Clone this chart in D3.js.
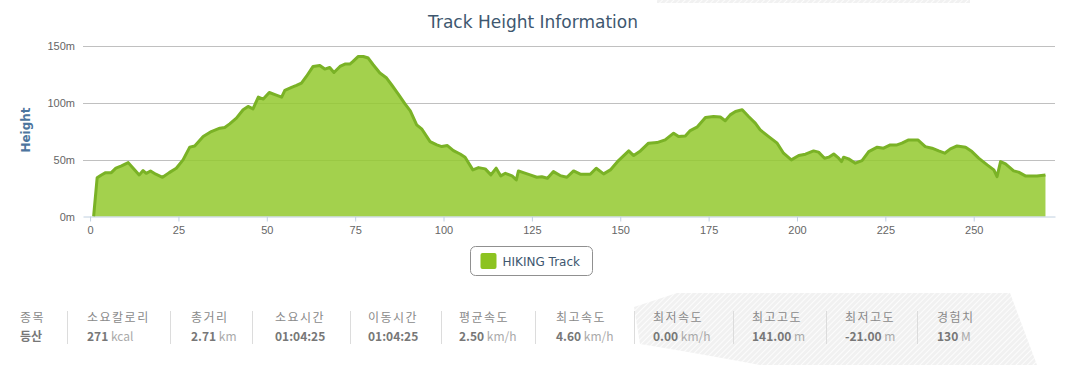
<!DOCTYPE html>
<meta charset="utf-8">
<style>
body {
  margin: 0;
  background: #fff;
}

svg {
  display: block;
  font-family: "DejaVu Sans", Verdana, sans-serif;
}

.grid line {
  stroke: #c0c0c0;
  stroke-width: 1px;
}

.axis--x .domain,
.axis--x .tick line {
  stroke: #c0d0e0;
}

.axis text {
  fill: #666;
  font-size: 11px;
}

.area {
  fill: rgb(147,201,46);
  fill-opacity: 0.85;
}

.line {
  fill: none;
  stroke: #7ab226;
  stroke-width: 3px;
  stroke-linejoin: round;
}

.stats text {
  font-family: "Noto Sans CJK KR", sans-serif;
  font-size: 12px;
}

.stats .label { fill: #8a8a8a; letter-spacing: 1.5px; }
.stats .value { fill: #777; font-weight: bold; }
.stats .unit { fill: #aaa; font-weight: normal; }
.stats .sep { stroke: #dcdcdc; }

</style>
<body>
<script src="https://cdn.jsdelivr.net/npm/d3@7"></script>
<script>

// track distance (x) and height in metres
var distance = [1, 2, 3.2, 4.4, 6, 7.3, 8.9, 10.8, 12.2, 13.9, 15, 15.9, 17.1, 18.6, 20.5, 22.4, 24.4,
  26.3, 28.2, 29.6, 32, 34.3, 36.7, 38.1, 39.5, 41.4, 43.3, 44.7, 46.1, 47.6, 49, 50.7, 52.5,
  54.2, 55.1, 57, 58.4, 59.8, 61.2, 63.1, 65, 66.4, 67.8, 69, 70.7, 72.1, 73.5, 74.4, 75.9,
  77.3, 78.7, 80.1, 82, 83.9, 85.3, 87.2, 89.1, 90.6, 92.4, 93.9, 96.2, 98.1, 99.5, 101.1,
  102.8, 104.7, 106.1, 108.3, 109.9, 111.8, 113.4, 114.9, 116.2, 117.5, 119.4, 120.6, 121.2,
  122.6, 124.5, 126.4, 127.8, 129.4, 131.1, 133, 134.9, 136.8, 138.7, 141.5, 143.2, 145.3,
  147.2, 149.5, 152.4, 153.8, 155.7, 158, 160.4, 162.7, 165.1, 166.5, 168.4, 169.8, 171.7,
  174.1, 176.4, 178.3, 179.7, 181.1, 182.6, 184.5, 186.3, 188.2, 189.6, 192, 194.4, 196.2,
  198.4, 200.5, 202.4, 204.7, 206.1, 207.8, 209, 210.4, 211.8, 212.6, 213.2, 214.6, 216.5,
  218.4, 220.3, 222.7, 224.5, 226.4, 228.3, 229.7, 231.6, 234.2, 236.3, 238.2, 240.1, 241.8,
  243.4, 245.3, 247.7, 249.5, 251.4, 253.8, 255.7, 256.6, 257.6, 259, 261.3, 262.7, 264.6,
  267.9, 270.3];

var height = [0, 34, 36.5, 38.6, 38.6, 42.5, 44.5, 47.4, 42.5, 36.6, 40.4, 38, 40, 37.2, 34.5, 38.6, 42.5,
  49.8, 61, 62, 70.3, 74.7, 77.7, 78.3, 81.5, 86.5, 93.9, 96.8, 94.7, 105, 103.3, 109.1, 107,
  105, 110.9, 113.5, 115.3, 117.4, 123.2, 132, 132.9, 129.7, 131.1, 126.7, 132, 134.1, 134.1, 136.4, 140.8,
  140.8, 139.4, 133.5, 126.2, 121.8, 115.9, 107.7, 99.1, 93, 80.6, 76.8, 65.9, 63, 61.5, 62.4,
  58, 55, 52.2, 41, 43, 41.9, 36.6, 42.5, 35.7, 38, 35.7, 32.2, 40.1,
  38.6, 36.6, 34.5, 35, 33.6, 39.5, 36, 34.5, 40.1, 37.2, 37.2, 42.5, 37.5,
  41, 49.2, 57.7, 53.6, 57.7, 64.5, 65, 67.4, 73.3, 70.3, 70.9, 75.6, 78.6,
  87.1, 88, 87.5, 84.2, 89.4, 92.4, 93.9, 88, 82.2, 76.2, 70.3, 64.5, 55.7,
  49.8, 53.6, 54.8, 57.7, 56.6, 51.3, 52.2, 55, 51.3, 48.3, 52.2, 50.7, 46.9,
  49.2, 57.1, 61, 60.1, 63, 63, 64.5, 67.4, 67.4, 61.5, 60.1, 57.7, 55.7,
  59.5, 62.1, 61, 57.1, 51.3, 45.4, 41, 35.1, 48.3, 46.3, 40.1, 39, 35.7,
  35.7, 36.6];

var xTicks = [0, 25, 50, 75, 100, 125, 150, 175, 200, 225, 250];
var yTicks = [0, 50, 100, 150];

var seriesName = "HIKING Track";

var statLabels = ["종목", "소요칼로리", "총거리", "소요시간", "이동시간", "평균속도", "최고속도", "최저속도", "최고고도", "최저고도", "경험치"];
var statValues = ["등산", "271", "2.71", "01:04:25", "01:04:25", "2.50", "4.60", "0.00", "141.00", "-21.00", "130"];
var statUnits  = ["", "kcal", "km", "", "", "km/h", "km/h", "km/h", "m", "m", "M"];

var width = 1071,
    svgHeight = 365,
    plot = {left: 83, right: 1055, top: 46, bottom: 216.5};

var x = d3.scaleLinear()
    .domain([-2, 273])
    .range([plot.left, plot.right]);

var y = d3.scaleLinear()
    .domain([0, 150])
    .range([plot.bottom, plot.top]);

var svg = d3.select("body").append("svg")
    .attr("width", width)
    .attr("height", svgHeight);

var defs = svg.append("defs");

var hatch = defs.append("pattern")
    .attr("id", "hatch")
    .attr("patternUnits", "userSpaceOnUse")
    .attr("width", 4)
    .attr("height", 4)
    .attr("patternTransform", "rotate(45)");

hatch.append("rect")
    .attr("width", 4)
    .attr("height", 4)
    .attr("fill", "#f1f1f1");

hatch.append("line")
    .attr("x1", 0).attr("y1", 0)
    .attr("x2", 0).attr("y2", 4)
    .attr("stroke", "#fff")
    .attr("stroke-width", 1.6);

// decorative hatched panel behind the right part of the stats
svg.append("path")
    .attr("fill", "url(#hatch)")
    .attr("d", "M677,293 L1010,293 L1037,365 L760,365 Q690,352 640,344 L634,307 Z");

svg.append("rect")
    .attr("x", 657)
    .attr("y", 0)
    .attr("width", 313)
    .attr("height", 3)
    .attr("fill", "url(#hatch)");

// title
svg.append("text")
    .attr("x", 533)
    .attr("y", 28)
    .attr("text-anchor", "middle")
    .attr("fill", "#3e576f")
    .style("font-size", "17px")
    .text("Track Height Information");

// horizontal grid
svg.append("g")
    .attr("class", "grid")
  .selectAll("line")
  .data(yTicks.filter(function(d) { return d > 0; }))
  .enter().append("line")
    .attr("x1", plot.left)
    .attr("x2", plot.right)
    .attr("y1", function(d) { return Math.round(y(d)) + 0.5; })
    .attr("y2", function(d) { return Math.round(y(d)) + 0.5; });

var area = d3.area()
    .x(function(d, i) { return x(distance[i]); })
    .y0(y(0))
    .y1(function(d) { return y(d); });

var line = d3.line()
    .x(function(d, i) { return x(distance[i]); })
    .y(function(d) { return y(d); });

svg.append("path")
    .datum(height)
    .attr("class", "area")
    .attr("d", area);

svg.append("path")
    .datum(height)
    .attr("class", "line")
    .attr("d", line);

// axes
svg.append("g")
    .attr("class", "axis axis--x")
    .attr("transform", "translate(0," + plot.bottom + ")")
    .call(d3.axisBottom(x)
        .tickValues(xTicks)
        .tickSize(5)
        .tickSizeOuter(0)
        .tickPadding(5));

var yAxis = svg.append("g")
    .attr("class", "axis axis--y")
    .attr("transform", "translate(" + (plot.left - 8) + ",0)")
    .call(d3.axisLeft(y)
        .tickValues(yTicks)
        .tickSize(0)
        .tickPadding(0)
        .tickFormat(function(d) { return d + "m"; }));

yAxis.select(".domain").remove();

svg.append("text")
    .attr("transform", "translate(30,130) rotate(-90)")
    .attr("text-anchor", "middle")
    .attr("fill", "#4d759e")
    .attr("font-weight", "bold")
    .style("font-size", "12px")
    .text("Height");

// legend
var legend = svg.append("g")
    .attr("transform", "translate(470.5,246.5)");

legend.append("rect")
    .attr("width", 122)
    .attr("height", 29)
    .attr("rx", 5)
    .attr("fill", "#fff")
    .attr("stroke", "#909090");

legend.append("rect")
    .attr("x", 10)
    .attr("y", 6.5)
    .attr("width", 16)
    .attr("height", 16)
    .attr("rx", 2)
    .attr("fill", "#8cc320");

legend.append("text")
    .attr("x", 32)
    .attr("y", 19.5)
    .attr("fill", "#3e576f")
    .style("font-size", "12px")
    .text(seriesName);

// stats table
var colX = [20, 87, 191, 275, 368, 459, 556, 653, 752, 845, 937],
    sepX = [67, 170, 252, 350, 441, 535, 634, 733, 826, 917];

var stats = svg.append("g")
    .attr("class", "stats");

stats.selectAll(".sep")
  .data(sepX)
  .enter().append("line")
    .attr("class", "sep")
    .attr("x1", function(d) { return d + 0.5; })
    .attr("x2", function(d) { return d + 0.5; })
    .attr("y1", 311)
    .attr("y2", 344);

stats.selectAll(".label")
  .data(statLabels)
  .enter().append("text")
    .attr("class", "label")
    .attr("x", function(d, i) { return colX[i]; })
    .attr("y", 322)
    .text(function(d) { return d; });

var val = stats.selectAll(".value")
  .data(statValues)
  .enter().append("text")
    .attr("class", "value")
    .attr("x", function(d, i) { return colX[i]; })
    .attr("y", 341);

val.append("tspan")
    .text(function(d) { return d; });

val.append("tspan")
    .attr("class", "unit")
    .text(function(d, i) { return statUnits[i] ? " " + statUnits[i] : ""; });

</script>
</body>
